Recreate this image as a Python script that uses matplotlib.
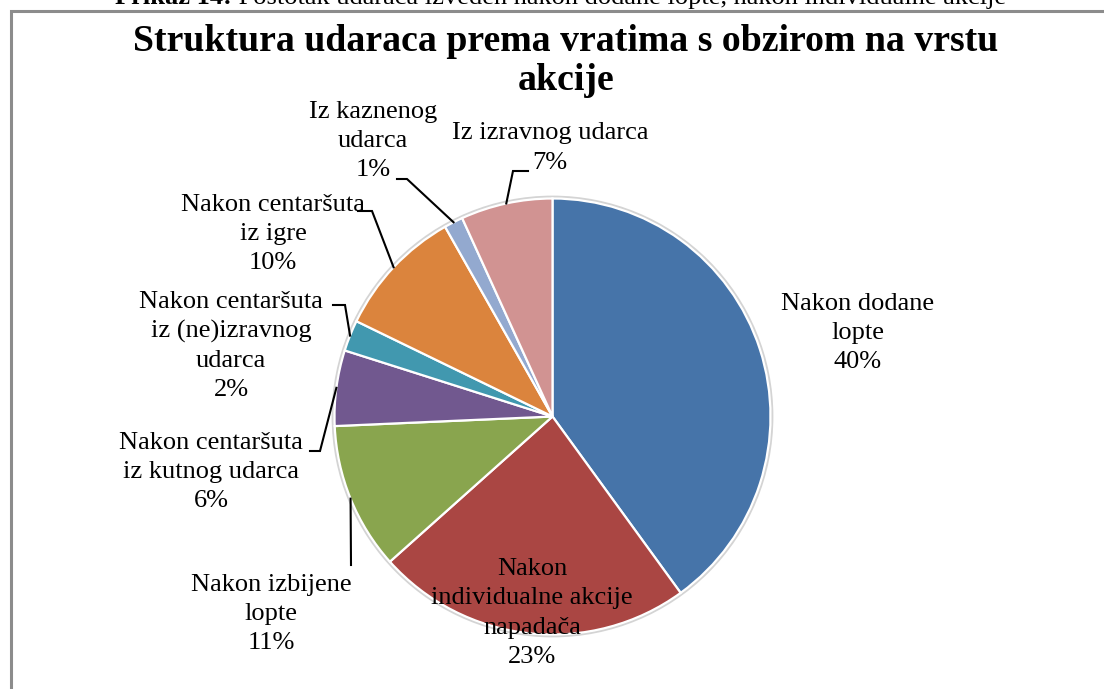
import numpy as np
import matplotlib
matplotlib.use("Agg")
import matplotlib.pyplot as plt

W, H = 1104, 689

categories = [
    "Nakon dodane\nlopte",
    "Nakon\nindividualne akcije\nnapadača",
    "Nakon izbijene\nlopte",
    "Nakon centaršuta\niz kutnog udarca",
    "Nakon centaršuta\niz (ne)izravnog\nudarca",
    "Nakon centaršuta\niz igre",
    "Iz kaznenog\nudarca",
    "Iz izravnog udarca",
]
values = [40.0, 23.4, 10.9, 5.6, 2.3, 9.6, 1.4, 6.8]
colors = ["#4674A9", "#AA4643", "#89A54E", "#71588F",
          "#4198AF", "#DB843D", "#93A9CF", "#D19392"]

title_lines = ["Struktura udaraca prema vratima s obzirom na vrstu", "akcije"]
caption_bold = "Prikaz 14:"
caption_rest = " Postotak udaraca izveden nakon dodane lopte, nakon individualne akcije"

# layout (pixel coordinates, y measured from the top)
center_px = (552.5, 416.5)
radius_px = 218
label_pos = [(858, 333), (532, 613), (271, 614), (211, 472),
             (231, 346), (273, 234), (373, 141), (550, 148)]
leaders = [None, None,
           [(351, 565)],
           [(320, 451), (310, 451)],
           [(345, 305), (333, 305)],
           [(372, 211), (358, 211)],
           [(407, 179), (397, 179)],
           [(513, 171), (528, 171)]]

serif = ["Liberation Serif", "DejaVu Serif"]

fig = plt.figure(figsize=(W / 100, H / 100), dpi=100)
ax = fig.add_axes([0, 0, 1, 1])


def P(x, y):
    return x, H - y


cx, cy = P(*center_px)

ax.add_patch(plt.Circle((cx, cy), radius_px + 1.5, facecolor="none",
                        edgecolor="#d4d4d4", linewidth=2.0, zorder=1))

wedges, _ = ax.pie(values, colors=colors, startangle=90, counterclock=False,
                   center=(cx, cy), radius=radius_px,
                   wedgeprops=dict(edgecolor="white", linewidth=1.6), frame=True)
ax.set_xlim(0, W)
ax.set_ylim(0, H)
ax.set_aspect("equal")
ax.axis("off")

total = sum(values)
for i, (w, lab) in enumerate(zip(wedges, categories)):
    pct = f"{values[i] / total * 100:.0f}%"
    lx, ly = P(*label_pos[i])
    ax.text(lx, ly, f"{lab}\n{pct}", ha="center", va="center",
            fontsize=19, family=serif, color="black", linespacing=1.42, zorder=5)
    if leaders[i] is not None:
        mid = np.deg2rad((w.theta1 + w.theta2) / 2)
        ex, ey = cx + radius_px * np.cos(mid), cy + radius_px * np.sin(mid)
        pts = [(ex, ey)] + [P(*p) for p in leaders[i]]
        xs, ys = zip(*pts)
        ax.plot(xs, ys, color="black", linewidth=1.5, zorder=4,
                solid_joinstyle="miter")

# title
ax.text(*P(566, 51), title_lines[0], ha="center", va="baseline",
        fontsize=27.2, fontweight="bold", family=serif)
ax.text(*P(566, 90), title_lines[1], ha="center", va="baseline",
        fontsize=27.2, fontweight="bold", family=serif)

# caption, cut off at the top edge as in the reference
t1 = ax.text(*P(115, 4), caption_bold, ha="left", va="baseline",
             fontsize=19, fontweight="bold", family=serif)
fig.canvas.draw()
bb = t1.get_window_extent()
ax.text(bb.x1, H - 4, caption_rest, ha="left", va="baseline",
        fontsize=19, family=serif)

# frame
ax.plot([11, 11, W + 5], [-5, H - 11, H - 11], color="#8c8c8c", linewidth=2.2,
        solid_joinstyle="miter", clip_on=False)

fig.savefig("out.png", dpi=100)
